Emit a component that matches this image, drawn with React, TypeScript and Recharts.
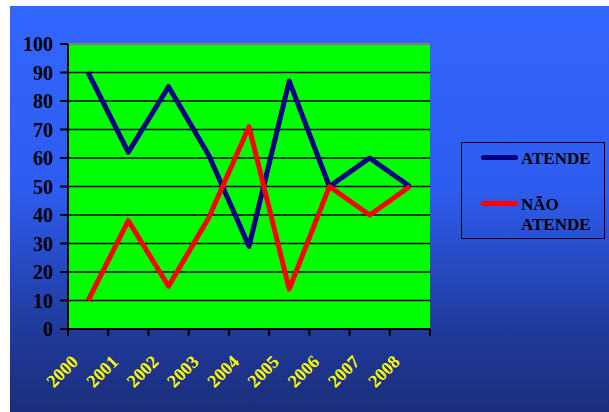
import { LineChart, Line, XAxis, YAxis, CartesianGrid, Legend, ReferenceLine } from 'recharts'

const years = ['2000', '2001', '2002', '2003', '2004', '2005', '2006', '2007', '2008']
const atende = [90, 62, 85, 61, 29, 87, 50, 60, 50]
const naoAtende = [10, 38, 15, 39, 71, 14, 50, 40, 50]
const yTicks = [0, 10, 20, 30, 40, 50, 60, 70, 80, 90, 100]

const data = years.map((year, i) => ({ year, atende: atende[i], naoAtende: naoAtende[i] }))

const FONT = '"Liberation Serif", "Times New Roman", serif'
const BAND = 362 / years.length
const AXIS_Y = 329

const XTick = ({ x, payload, index }: any) => {
  const half = BAND / 2
  const i = index ?? payload.index
  const lx = x - 9
  const ly = AXIS_Y + 34
  return (
    <g>
      <line x1={x - half} x2={x - half} y1={AXIS_Y} y2={AXIS_Y + 7} stroke="#000" strokeWidth={2} />
      {i === years.length - 1 && (
        <line x1={x + half} x2={x + half} y1={AXIS_Y} y2={AXIS_Y + 7} stroke="#000" strokeWidth={2} />
      )}
      <text
        x={lx}
        y={ly}
        transform={`rotate(-45, ${lx}, ${ly})`}
        textAnchor="end"
        fill="#ffff00"
        fontWeight="bold"
        fontSize={18}
        fontFamily={FONT}
      >
        {payload.value}
      </text>
    </g>
  )
}

const LegendBox = ({ payload }: any) => (
  <div
    style={{
      width: 144,
      height: 97,
      boxSizing: 'border-box',
      border: '1.5px solid #000',
      paddingTop: 6,
      paddingLeft: 19,
      fontFamily: FONT,
      fontWeight: 'bold',
      fontSize: 17,
      lineHeight: '20px',
      color: '#000',
    }}
  >
    {(payload || []).map((p: any, i: number) => (
      <div key={i} style={{ display: 'flex', alignItems: 'flex-start', marginBottom: 26 }}>
        <div style={{ width: 37, height: 5, marginTop: 6, borderRadius: 2.5, background: p.color }} />
        <span style={{ marginLeft: 3, width: 80 }}>{p.value}</span>
      </div>
    ))}
  </div>
)

export default function App() {
  return (
    <div style={{ position: 'absolute', left: 0, top: 0, width: 609, height: 412, background: '#fff' }}>
      <div
        style={{
          position: 'absolute',
          left: 10,
          top: 6,
          right: 0,
          bottom: 0,
          background: 'linear-gradient(#3366ff 0%, #2e5cf0 45%, #1f3a9a 80%, #1c2e7c 100%)',
        }}
      />
      <div style={{ position: 'absolute', left: 0, top: 0 }}>
        <LineChart width={609} height={412} data={data} margin={{ top: 44, right: 179, left: 0, bottom: 23 }}>
          <CartesianGrid vertical={false} stroke="#000" strokeWidth={1.5} fill="#00ff00" fillOpacity={1} />
          <ReferenceLine y={100} stroke="#808080" strokeWidth={2} />
          <XAxis
            dataKey="year"
            scale="band"
            height={60}
            interval={0}
            tickLine={false}
            tickSize={0}
            tickMargin={0}
            axisLine={{ stroke: '#000', strokeWidth: 2 }}
            tick={<XTick />}
          />
          <YAxis
            width={68}
            domain={[0, 100]}
            ticks={yTicks}
            interval={0}
            tickSize={8}
            tickMargin={7}
            axisLine={{ stroke: '#000', strokeWidth: 2 }}
            tickLine={{ stroke: '#000', strokeWidth: 2 }}
            tick={{ fill: '#000', fontSize: 20, fontWeight: 'bold', fontFamily: FONT }}
          />
          <YAxis
            yAxisId="right"
            orientation="right"
            width={0}
            domain={[0, 100]}
            tick={false}
            tickLine={false}
            axisLine={{ stroke: '#808080', strokeWidth: 2 }}
          />
          <Legend
            layout="vertical"
            align="center"
            verticalAlign="middle"
            wrapperStyle={{ left: 461, top: 142, width: 144, height: 97 }}
            content={<LegendBox />}
          />
          <Line
            name="ATENDE"
            dataKey="atende"
            stroke="#000080"
            strokeWidth={5}
            strokeLinejoin="round"
            dot={false}
            isAnimationActive={false}
          />
          <Line
            name="NÃO ATENDE"
            dataKey="naoAtende"
            stroke="#ff0000"
            strokeWidth={5}
            strokeLinejoin="round"
            dot={false}
            isAnimationActive={false}
          />
        </LineChart>
      </div>
    </div>
  )
}
